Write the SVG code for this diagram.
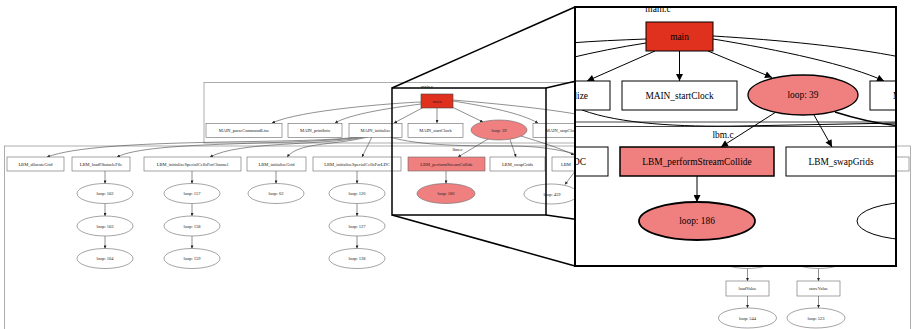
<svg xmlns="http://www.w3.org/2000/svg" width="914" height="329" viewBox="0 0 914 329">
<style>
.cl{fill:none;stroke:#9a9a9a;stroke-width:0.8}
.n{fill:#fff;stroke:#666;stroke-width:0.6}
.N{fill:#fff;stroke:#000;stroke-width:1}
.hot{fill:#f08080}
.red{fill:#e0301e}
.t{font-family:"Liberation Serif",serif;font-size:4.5px;text-anchor:middle;fill:#222}
.e{fill:none;stroke:#444;stroke-width:0.6;marker-end:url(#as)}
.en{fill:none;stroke:#444;stroke-width:0.6}
.T{font-family:"Liberation Serif",serif;font-size:9.4px;text-anchor:middle;fill:#000}
.E{fill:none;stroke:#000;stroke-width:1;marker-end:url(#ab)}
.En{fill:none;stroke:#000;stroke-width:1}
.fr{fill:none;stroke:#000;stroke-width:1.5}
</style>
<defs>
<marker id="as" viewBox="0 0 10 10" refX="10" refY="5" markerWidth="3.5" markerHeight="3" markerUnits="userSpaceOnUse" orient="auto"><path d="M0,0L10,5L0,10z" fill="#222"/></marker>
<marker id="ab" viewBox="0 0 10 10" refX="10" refY="5" markerWidth="9" markerHeight="7" markerUnits="userSpaceOnUse" orient="auto"><path d="M0,0L10,5L0,10z" fill="#000"/></marker>
<clipPath id="bv"><rect x="575" y="7" width="321" height="259"/></clipPath>
</defs>
<rect width="914" height="329" fill="#fff"/>

<!-- small overview graph -->
<g id="overview">
<g id="cluster_main_c"><rect class="cl" x="204" y="82.5" width="446" height="60.5"/><text class="t" x="427" y="88">main.c</text></g>
<g id="cluster_lbm_c"><rect class="cl" x="4.5" y="146" width="906" height="200"/><text class="t" x="457.5" y="151">lbm.c</text></g>

<g id="connectors_small">
<path class="e" d="M421,102 C395,103 300,110 272,123"/>
<path class="e" d="M421,104 C390,108 350,114 335,123"/>
<path class="e" d="M424,107 L394,123"/>
<path class="e" d="M437,108 L437,123"/>
<path class="e" d="M452,107 L483,122"/>
<path class="e" d="M453,101 C490,107 520,113 538,123"/>
<path class="en" d="M453,100 C500,104 540,108 576,114"/>
<path class="e" d="M488,139 L458,157"/>
<path class="e" d="M510,139.5 L516,157"/>
<path class="e" d="M521,136 C540,142 560,148 574,155"/>
<path class="en" d="M390,137 C420,146 470,146 510,146 C540,146 560,150 576,154"/>
<path class="e" d="M358,137 C300,145 100,137 47,157"/>
<path class="e" d="M362,137 C300,146 150,140 117,157"/>
<path class="e" d="M365,137 C320,146 240,141 210,157"/>
<path class="e" d="M368,137 C330,146 300,142 287,157"/>
<path class="e" d="M372,137 L362,157"/>
<path class="e" d="M105,171 L105,183.5"/>
<path class="e" d="M105,203.5 L105,216"/>
<path class="e" d="M105,236 L105,248.5"/>
<path class="e" d="M192,171 L192,183.5"/>
<path class="e" d="M192,203.5 L192,216"/>
<path class="e" d="M192,236 L192,248.5"/>
<path class="e" d="M276,171 L276,183.5"/>
<path class="e" d="M357,171 L357,183.5"/>
<path class="e" d="M357,203.5 L357,216"/>
<path class="e" d="M357,236 L357,248.5"/>
<path class="e" d="M446,171 L446,183.5"/>
<path class="e" d="M576,170 L565,184.5"/>
<path class="e" d="M747.5,268.5 L747.5,281"/>
<path class="e" d="M818.5,268.5 L818.5,281"/>
<path class="e" d="M747.5,296 L747.5,308"/>
<path class="e" d="M818.5,296 L818.5,308"/>
</g>

<g id="s_main"><rect class="red" x="421" y="94" width="32" height="14" stroke="#444" stroke-width="0.6"/><text class="t" x="437" y="102.6">main</text></g>
<g id="s_MAIN_parseCommandLine"><rect class="n" x="206" y="123.3" width="76" height="14"/><text class="t" x="244" y="131.9">MAIN_parseCommandLine</text></g>
<g id="s_MAIN_printInfo"><rect class="n" x="288" y="123.3" width="54" height="14"/><text class="t" x="315" y="131.9">MAIN_printInfo</text></g>
<g id="s_MAIN_initialize"><rect class="n" x="349" y="123.3" width="53" height="14"/><text class="t" x="375.5" y="131.9">MAIN_initialize</text></g>
<g id="s_MAIN_startClock"><rect class="n" x="408" y="123.3" width="55" height="14"/><text class="t" x="435.5" y="131.9">MAIN_startClock</text></g>
<g id="s_loop39"><ellipse class="n hot" cx="499" cy="130" rx="28" ry="10"/><text class="t" x="499" y="131.6">loop: 39</text></g>
<g id="s_MAIN_stopClock"><rect class="n" x="533" y="123.3" width="58" height="14"/><text class="t" x="562" y="131.9">MAIN_stopClock</text></g>

<g id="s_LBM_allocateGrid"><rect class="n" x="7" y="157" width="57" height="14"/><text class="t" x="35.5" y="165.6">LBM_allocateGrid</text></g>
<g id="s_LBM_loadObstacleFile"><rect class="n" x="72" y="157" width="58" height="14"/><text class="t" x="101" y="165.6">LBM_loadObstacleFile</text></g>
<g id="s_LBM_initializeSpecialCellsForChannel"><rect class="n" x="144" y="157" width="97" height="14"/><text class="t" x="192.5" y="165.6">LBM_initializeSpecialCellsForChannel</text></g>
<g id="s_LBM_initializeGrid"><rect class="n" x="247" y="157" width="59" height="14"/><text class="t" x="276.5" y="165.6">LBM_initializeGrid</text></g>
<g id="s_LBM_initializeSpecialCellsForLDC"><rect class="n" x="313" y="157" width="88" height="14"/><text class="t" x="357" y="165.6">LBM_initializeSpecialCellsForLDC</text></g>
<g id="s_LBM_performStreamCollide"><rect class="n hot" x="408" y="157" width="77" height="14"/><text class="t" x="446.5" y="165.6">LBM_performStreamCollide</text></g>
<g id="s_LBM_swapGrids"><rect class="n" x="490" y="157" width="55" height="14"/><text class="t" x="517.5" y="165.6">LBM_swapGrids</text></g>
<g id="s_LBM_x"><rect class="n" x="552" y="157" width="50" height="14"/><text class="t" x="561" y="165.6" style="text-anchor:start">LBM</text></g>
<g id="s_right_box"><rect class="n" x="850" y="157" width="59" height="14"/></g>

<g id="s_loop102"><ellipse class="n" cx="105" cy="193.5" rx="28" ry="10"/><text class="t" x="105" y="195.1">loop: 102</text></g>
<g id="s_loop103"><ellipse class="n" cx="105" cy="226" rx="28" ry="10"/><text class="t" x="105" y="227.6">loop: 103</text></g>
<g id="s_loop104"><ellipse class="n" cx="105" cy="258.5" rx="28" ry="10"/><text class="t" x="105" y="260.1">loop: 104</text></g>
<g id="s_loop157"><ellipse class="n" cx="192" cy="193.5" rx="28" ry="10"/><text class="t" x="192" y="195.1">loop: 157</text></g>
<g id="s_loop158"><ellipse class="n" cx="192" cy="226" rx="28" ry="10"/><text class="t" x="192" y="227.6">loop: 158</text></g>
<g id="s_loop159"><ellipse class="n" cx="192" cy="258.5" rx="28" ry="10"/><text class="t" x="192" y="260.1">loop: 159</text></g>
<g id="s_loop62"><ellipse class="n" cx="276" cy="193.5" rx="28" ry="10"/><text class="t" x="276" y="195.1">loop: 62</text></g>
<g id="s_loop126"><ellipse class="n" cx="357" cy="193.5" rx="28" ry="10"/><text class="t" x="357" y="195.1">loop: 126</text></g>
<g id="s_loop127"><ellipse class="n" cx="357" cy="226" rx="28" ry="10"/><text class="t" x="357" y="227.6">loop: 127</text></g>
<g id="s_loop128"><ellipse class="n" cx="357" cy="258.5" rx="28" ry="10"/><text class="t" x="357" y="260.1">loop: 128</text></g>
<g id="s_loop186"><ellipse class="n hot" cx="446" cy="193.5" rx="29" ry="10"/><text class="t" x="446" y="195.1">loop: 186</text></g>
<g id="s_loop459"><ellipse class="n" cx="551" cy="194" rx="27" ry="10"/><text class="t" x="552" y="195.6">loop: 459</text></g>
<g id="s_loop_a"><ellipse class="n" cx="747.5" cy="258.5" rx="28" ry="10"/></g>
<g id="s_loop_b"><ellipse class="n" cx="818.5" cy="258.5" rx="28" ry="10"/></g>
<g id="s_loadValue"><rect class="n" x="726" y="281" width="43" height="15"/><text class="t" x="747.5" y="290.1">loadValue</text></g>
<g id="s_storeValue"><rect class="n" x="797" y="281" width="43" height="15"/><text class="t" x="818.5" y="290.1">storeValue</text></g>
<g id="s_loop544"><ellipse class="n" cx="747.5" cy="318" rx="29" ry="10"/><text class="t" x="747.5" y="319.6">loop: 544</text></g>
<g id="s_loop523"><ellipse class="n" cx="816" cy="318" rx="29" ry="10"/><text class="t" x="816" y="319.6">loop: 523</text></g>
</g>

<!-- magnifier frame and projection lines -->
<g id="magnifier_lines">
<rect class="fr" x="392" y="88" width="154" height="127"/>
<line class="fr" x1="392" y1="88" x2="575" y2="7"/>
<line class="fr" x1="392" y1="215" x2="575" y2="266"/>
<line class="fr" x1="546" y1="88" x2="896" y2="7"/>
<line class="fr" x1="546" y1="215" x2="896" y2="266"/>
</g>

<!-- magnified view -->
<g id="magnified" clip-path="url(#bv)">
<rect x="575" y="7" width="321" height="259" fill="#fff"/>
<g id="m_cluster_main_c"><rect fill="none" stroke="#444" stroke-width="1" x="194" y="-2" width="928" height="124"/><text class="T" x="658" y="12">main.c</text></g>
<g id="m_cluster_lbm_c"><rect fill="none" stroke="#444" stroke-width="1" x="-220" y="126.5" width="1880" height="400"/><text class="T" x="723" y="138">lbm.c</text></g>

<g id="connectors_magnified">
<path class="E" d="M655,51 L587,81"/>
<path class="E" d="M679.5,51 L679.5,81"/>
<path class="E" d="M708,51 L772,77.5"/>
<path class="E" d="M713,39 C780,50 850,65 884,81"/>
<path class="En" d="M713,36 C780,40 850,47 900,57"/>
<path class="En" d="M646,39 C620,40 595,41 570,43"/>
<path class="En" d="M646,43 C620,47 595,52 570,58"/>
<path class="En" d="M582,110 C620,124 680,127 740,126 L900,123"/>
<path class="En" style="stroke-width:1.6" d="M835,112 C860,120 880,124 900,126"/>
<path class="E" d="M776,112 L721,147"/>
<path class="E" d="M814,115 L832,147"/>
<path class="E" d="M697,176 L697,202"/>
</g>

<g id="m_main"><rect class="N red" x="646" y="22" width="67" height="29"/><text class="T" x="679.5" y="39.8">main</text></g>
<g id="m_MAIN_initialize"><rect class="N" x="503" y="81" width="107" height="29"/><text class="T" x="588" y="98.8" style="text-anchor:end">lize</text></g>
<g id="m_MAIN_startClock"><rect class="N" x="622" y="81" width="115" height="29"/><text class="T" x="679.5" y="98.8">MAIN_startClock</text></g>
<g id="m_loop39"><ellipse class="N hot" style="stroke-width:1.3" cx="803" cy="95" rx="55" ry="20"/><text class="T" x="803" y="98.3">loop: 39</text></g>
<g id="m_MAIN_stopClock"><rect class="N" x="870" y="81" width="114" height="29"/><text class="T" x="893" y="98.8" style="text-anchor:start">M</text></g>
<g id="m_LBM_initializeSpecialCellsForLDC"><rect class="N" x="427" y="147" width="181" height="29"/><text class="T" x="586" y="164.8" style="text-anchor:end">DC</text></g>
<g id="m_LBM_performStreamCollide"><rect class="N hot" style="stroke-width:1.5" x="620" y="147" width="154" height="29"/><text class="T" x="697" y="164.8">LBM_performStreamCollide</text></g>
<g id="m_LBM_swapGrids"><rect class="N" x="786" y="147" width="111" height="29"/><text class="T" x="841" y="164.8">LBM_swapGrids</text></g>
<g id="m_loop186"><ellipse class="N hot" style="stroke-width:1.8" cx="697" cy="221" rx="58" ry="19"/><text class="T" x="697" y="224.3">loop: 186</text></g>
<g id="m_loop459"><ellipse class="N" cx="915" cy="221" rx="58" ry="19"/></g>
</g>
<rect id="magnified_border" x="575" y="7" width="321" height="259" fill="none" stroke="#000" stroke-width="2"/>
</svg>
